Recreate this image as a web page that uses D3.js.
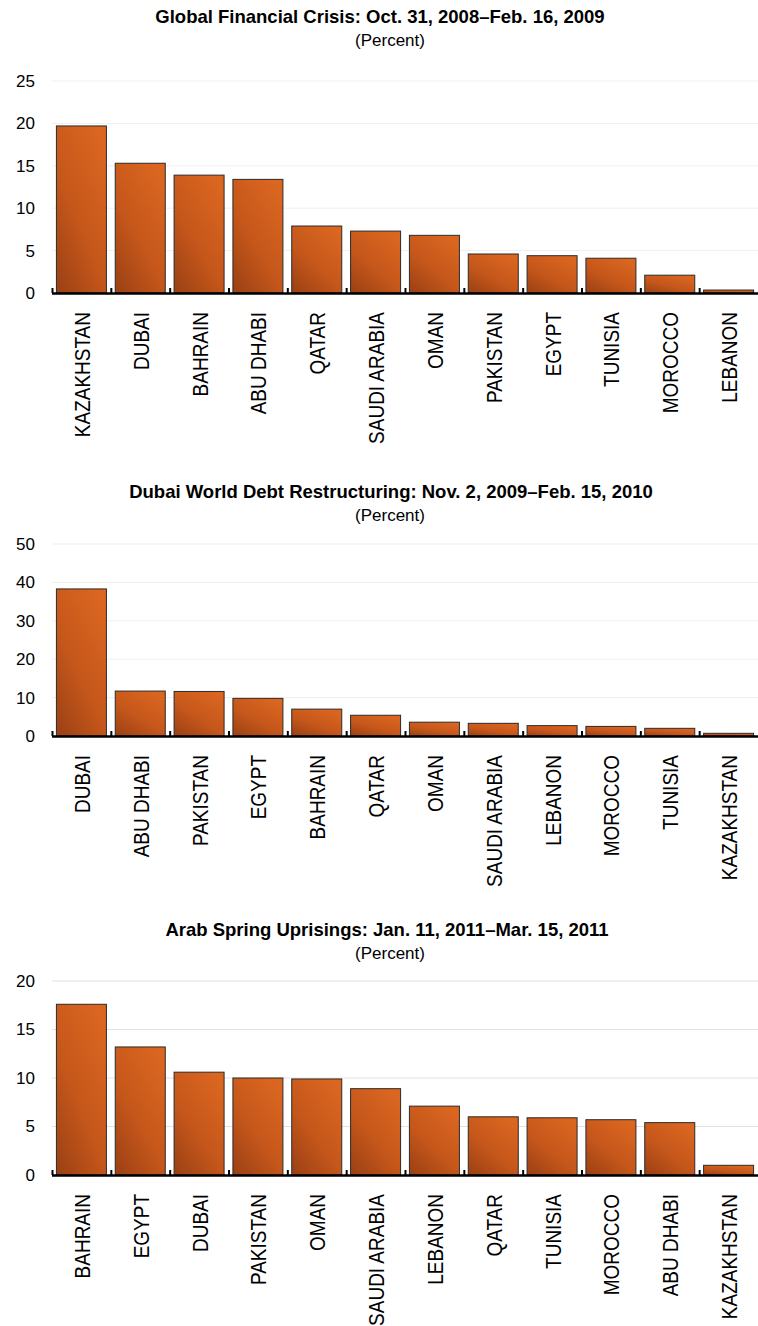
<!DOCTYPE html>
<html>
<head>
<meta charset="utf-8">
<script src="https://cdn.jsdelivr.net/npm/d3@7"></script>
<style>
  body { margin: 0; background: #fff; }
  svg { display: block; font-family: Arial, "Liberation Sans", sans-serif; }
</style>
</head>
<body>
<div class="chart"></div>
<script>
// panel 1: global financial crisis
const crisisCategories = ["KAZAKHSTAN", "DUBAI", "BAHRAIN", "ABU DHABI", "QATAR", "SAUDI ARABIA", "OMAN", "PAKISTAN", "EGYPT", "TUNISIA", "MOROCCO", "LEBANON"];
const crisisValues = [19.7, 15.3, 13.9, 13.4, 7.9, 7.3, 6.8, 4.6, 4.4, 4.1, 2.1, 0.35];
const crisisTicks = [0, 5, 10, 15, 20, 25];

// panel 2: dubai world
const dubaiCategories = ["DUBAI", "ABU DHABI", "PAKISTAN", "EGYPT", "BAHRAIN", "QATAR", "OMAN", "SAUDI ARABIA", "LEBANON", "MOROCCO", "TUNISIA", "KAZAKHSTAN"];
const dubaiValues = [38.3, 11.7, 11.6, 9.8, 7.0, 5.4, 3.6, 3.3, 2.7, 2.5, 2.0, 0.7];
const dubaiTicks = [0, 10, 20, 30, 40, 50];

// panel 3: arab spring
const springCategories = ["BAHRAIN", "EGYPT", "DUBAI", "PAKISTAN", "OMAN", "SAUDI ARABIA", "LEBANON", "QATAR", "TUNISIA", "MOROCCO", "ABU DHABI", "KAZAKHSTAN"];
const springValues = [17.6, 13.2, 10.6, 10.0, 9.9, 8.9, 7.1, 6.0, 5.9, 5.7, 5.4, 1.0];
const springTicks = [0, 5, 10, 15, 20];

const titles = [
  "Global Financial Crisis: Oct. 31, 2008\u2013Feb. 16, 2009",
  "Dubai World Debt Restructuring: Nov. 2, 2009\u2013Feb. 15, 2010",
  "Arab Spring Uprisings: Jan. 11, 2011\u2013Mar. 15, 2011"
];

const width = 758, height = 1326;
const left = 52, right = 758;

const svg = d3.select('.chart').append('svg')
    .attr('width', width)
    .attr('height', height);

// bar gradient
const defs = svg.append('defs');
const grad = defs.append('linearGradient')
    .attr('id', 'barGrad')
    .attr('x1', 0.8).attr('y1', 0)
    .attr('x2', 0.1).attr('y2', 1);
grad.append('stop').attr('offset', '0%').attr('stop-color', '#db6620');
grad.append('stop').attr('offset', '55%').attr('stop-color', '#c5571b');
grad.append('stop').attr('offset', '100%').attr('stop-color', '#9e4214');

const panels = [
  {title: titles[0], cats: crisisCategories, vals: crisisValues, ticks: crisisTicks, titleX: 380, titleY: 23, subY: 46, y0: 293, y1: 81, grid: '#efefef'},
  {title: titles[1], cats: dubaiCategories, vals: dubaiValues, ticks: dubaiTicks, titleX: 391, titleY: 498, subY: 521, y0: 736, y1: 544, grid: '#efefef'},
  {title: titles[2], cats: springCategories, vals: springValues, ticks: springTicks, titleX: 387, titleY: 936, subY: 959, y0: 1175, y1: 981, grid: '#e2e2e2'}
];

panels.forEach(function(p) {
  const g = svg.append('g');

  g.append('text')
      .attr('x', p.titleX).attr('y', p.titleY)
      .attr('text-anchor', 'middle')
      .style('font-size', '18.5px').style('font-weight', 'bold')
      .text(p.title);
  g.append('text')
      .attr('x', 390).attr('y', p.subY)
      .attr('text-anchor', 'middle')
      .style('font-size', '17px')
      .text('(Percent)');

  let x = d3.scaleBand()
      .domain(p.cats)
      .range([left, right])
      .paddingInner(0.15)
      .paddingOuter(0.075);
  let y = d3.scaleLinear()
      .domain([0, d3.max(p.ticks)])
      .range([p.y0, p.y1]);

  // gridlines
  g.append('g').selectAll('line')
      .data(p.ticks.slice(1))
      .enter().append('line')
      .attr('x1', left).attr('x2', right)
      .attr('y1', d => y(d)).attr('y2', d => y(d))
      .attr('stroke', p.grid).attr('stroke-width', 1);

  // y axis labels only
  const ya = g.append('g')
      .attr('transform', 'translate(' + left + ',0)')
      .call(d3.axisLeft(y).tickValues(p.ticks).tickSize(0).tickPadding(17));
  ya.select('.domain').remove();
  ya.selectAll('text').style('font-size', '17px').attr('fill', '#000');

  // bars
  g.selectAll('.bar')
      .data(p.vals)
      .enter().append('rect')
      .attr('class', 'bar')
      .attr('x', (d, i) => x(p.cats[i]))
      .attr('width', x.bandwidth())
      .attr('y', d => y(d))
      .attr('height', d => p.y0 - y(d))
      .attr('fill', 'url(#barGrad)')
      .attr('stroke', '#2b2b2b')
      .attr('stroke-width', 1);

  // x axis line + small ticks at band edges
  const step = x.step();
  const edge = step * x.paddingInner() / 2;
  g.append('line')
      .attr('x1', left).attr('x2', right)
      .attr('y1', p.y0 + 0.5).attr('y2', p.y0 + 0.5)
      .attr('stroke', '#000').attr('stroke-width', 2.5);
  g.append('g').selectAll('line')
      .data(p.cats)
      .enter().append('line')
      .attr('x1', d => x(d) - edge + 0.5).attr('x2', d => x(d) - edge + 0.5)
      .attr('y1', p.y0 - 5).attr('y2', p.y0)
      .attr('stroke', '#000').attr('stroke-width', 2);

  // category labels, rotated
  const xa = g.append('g')
      .attr('transform', 'translate(0,' + p.y0 + ')')
      .call(d3.axisBottom(x).tickSize(0));
  xa.select('.domain').remove();
  xa.selectAll('text')
      .attr('fill', '#000')
      .style('font-size', '19px')
      .attr('text-anchor', 'end')
      .attr('y', 0)
      .attr('transform', 'translate(1,19) rotate(-90) scale(1,1.12)')
      .attr('dy', '0.35em');
});
</script>
</body>
</html>
